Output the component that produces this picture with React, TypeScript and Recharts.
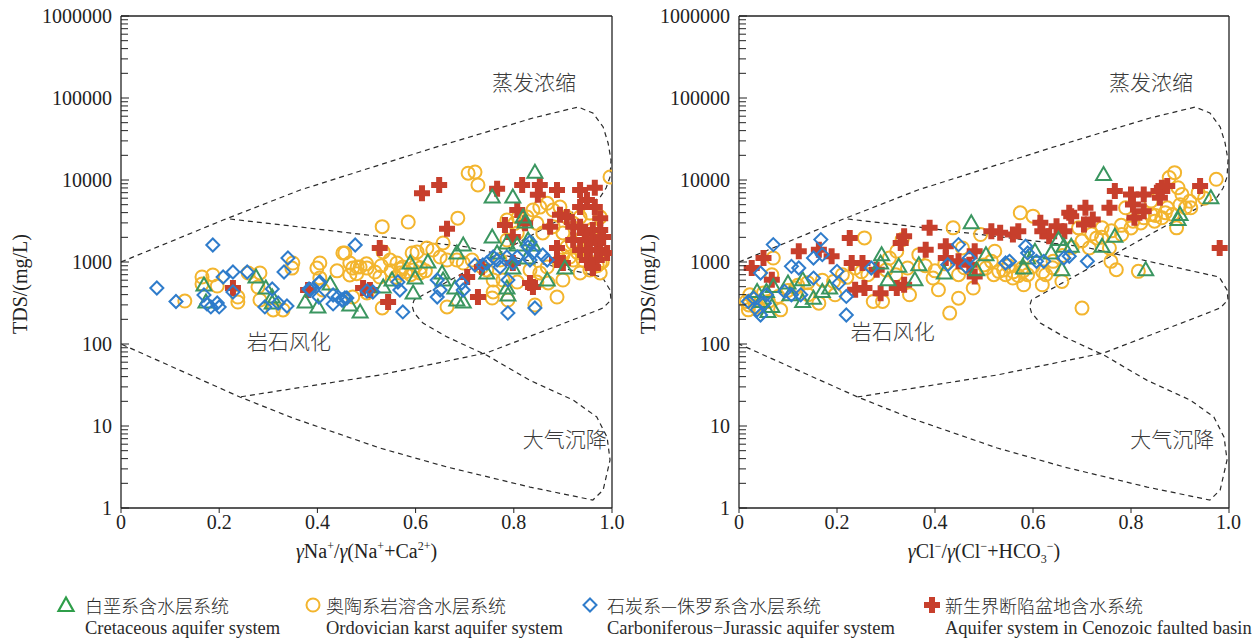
import React from "react";
import { ReferenceLine, Scatter, ScatterChart, XAxis, YAxis } from "recharts";

type Pt = [number, number];

// Gibbs template boundaries (same in both panels)
const outerLine: Pt[] = [
  [0, 1000], [0.208, 3250], [0.365, 7550], [0.635, 24500], [0.839, 57000],
  [0.931, 77600], [0.961, 65600], [0.982, 44300], [0.992, 28300], [0.998, 17500],
  [0.996, 10900], [0.988, 7990], [0.976, 6200], [0.782, 1400], [0.597, 345],
  [0.593, 290], [0.597, 240], [0.615, 180], [0.664, 122], [0.745, 73],
  [0.833, 36], [0.921, 20.7], [0.969, 12.9], [0.99, 7.3], [0.996, 3.85],
  [0.982, 1.66], [0.961, 1.25], [0.833, 1.8], [0.664, 3.16], [0.527, 5.39],
  [0.35, 12.5], [0.242, 22.6], [0, 100],
];
const innerLine: Pt[] = [
  [0.222, 3345], [0.365, 2670], [0.705, 1524], [0.98, 656], [0.996, 456],
  [0.998, 344], [0.982, 275], [0.935, 213], [0.745, 78], [0.527, 41.9], [0.242, 22.6],
];

// left panel: γNa+/γ(Na+ + Ca2+)
const naCretaceous: Pt[] = [
  [0.169, 525], [0.173, 325], [0.275, 656], [0.295, 482], [0.308, 374], [0.308, 316],
  [0.426, 539], [0.375, 325], [0.401, 283], [0.466, 299], [0.487, 246], [0.534, 495],
  [0.552, 603], [0.589, 972], [0.599, 640], [0.625, 1003], [0.595, 419], [0.654, 735],
  [0.656, 603], [0.697, 1611], [0.684, 1288], [0.68, 482], [0.684, 344], [0.697, 325],
  [0.756, 6200], [0.756, 2018], [0.786, 1706], [0.766, 1288], [0.807, 1611], [0.819, 3530],
  [0.823, 3070], [0.798, 6200], [0.843, 12400], [0.829, 1850], [0.839, 1611], [0.786, 482],
  [0.788, 396], [0.868, 603], [0.904, 843], [0.745, 735], [0.798, 843], [0.827, 1119],
];
const naOrdovician: Pt[] = [
  [0.165, 656], [0.165, 539], [0.187, 695], [0.196, 509], [0.13, 334], [0.238, 325],
  [0.238, 374], [0.259, 735], [0.283, 735], [0.279, 495], [0.283, 344], [0.31, 260],
  [0.33, 260], [0.35, 972], [0.348, 843], [0.405, 972], [0.399, 843], [0.405, 640],
  [0.411, 456], [0.456, 1288], [0.466, 972], [0.472, 843], [0.487, 869], [0.466, 695],
  [0.472, 374], [0.532, 2700], [0.585, 3070], [0.452, 1288], [0.481, 869], [0.501, 843],
  [0.517, 755], [0.534, 1328], [0.548, 1057], [0.562, 972], [0.574, 869], [0.593, 1288],
  [0.603, 1328], [0.623, 1480], [0.635, 1400], [0.595, 798], [0.609, 735], [0.568, 735],
  [0.527, 656], [0.65, 1151], [0.664, 1057], [0.656, 1706], [0.686, 3425], [0.707, 12100],
  [0.721, 12500], [0.727, 8700], [0.758, 603], [0.758, 431], [0.756, 364], [0.664, 283],
  [0.532, 275], [0.501, 419], [0.715, 1057], [0.735, 869], [0.772, 1057], [0.786, 3250],
  [0.802, 2960], [0.827, 3530], [0.839, 4300], [0.853, 4670], [0.868, 5200], [0.88, 4300],
  [0.894, 4670], [0.908, 3530], [0.921, 2960], [0.935, 3530], [0.955, 3950], [0.976, 3530],
  [0.847, 2960], [0.859, 2260], [0.88, 2700], [0.9, 2260], [0.908, 1524], [0.894, 1057],
  [0.921, 1057], [0.941, 1057], [0.955, 798], [0.935, 735], [0.914, 1151], [0.976, 735],
  [0.976, 972], [0.888, 374], [0.843, 299], [0.9, 603], [0.996, 10900], [0.809, 3530],
  [0.786, 1855], [0.807, 2260], [0.833, 798], [0.853, 735], [0.684, 1057], [0.697, 972],
  [0.745, 798], [0.778, 603], [0.807, 570], [0.847, 570], [0.87, 555], [0.868, 869],
  [0.788, 344], [0.55, 780], [0.57, 820], [0.58, 760], [0.59, 700], [0.56, 650],
  [0.6, 900], [0.61, 850], [0.62, 780], [0.53, 900], [0.5, 950], [0.48, 720],
  [0.44, 780], [0.93, 1300], [0.95, 1800], [0.96, 1400], [0.97, 1200], [0.94, 2000],
  [0.92, 1700], [0.97, 900], [0.98, 1000], [0.9, 1200], [0.96, 2500],
];
const naJurassic: Pt[] = [
  [0.073, 482], [0.112, 330], [0.187, 1611], [0.228, 755], [0.208, 656], [0.257, 755],
  [0.169, 396], [0.196, 316], [0.183, 283], [0.2, 283], [0.175, 308], [0.228, 431],
  [0.34, 1119], [0.332, 755], [0.308, 469], [0.293, 283], [0.338, 291], [0.32, 316],
  [0.383, 469], [0.403, 555], [0.403, 374], [0.432, 308], [0.442, 374], [0.452, 344],
  [0.46, 364], [0.477, 1611], [0.501, 443], [0.385, 456], [0.405, 570], [0.432, 396],
  [0.45, 344], [0.456, 364], [0.513, 431], [0.564, 570], [0.568, 456], [0.574, 246],
  [0.644, 603], [0.65, 456], [0.644, 374], [0.694, 555], [0.697, 456], [0.721, 919],
  [0.745, 972], [0.766, 1057], [0.772, 869], [0.786, 1151], [0.798, 972], [0.807, 1151],
  [0.833, 1057], [0.839, 1288], [0.859, 1217], [0.868, 1057], [0.788, 603], [0.788, 239],
  [0.843, 275], [0.833, 1754], [0.758, 1151], [0.829, 1524], [0.737, 919],
];
const naCenozoic: Pt[] = [
  [0.613, 6900], [0.648, 8700], [0.766, 7800], [0.817, 8700], [0.853, 8700], [0.849, 6600],
  [0.888, 7550], [0.935, 7550], [0.965, 8020], [0.807, 4300], [0.782, 2820], [0.798, 2018],
  [0.664, 2550], [0.527, 1480], [0.493, 482], [0.507, 456], [0.544, 325], [0.705, 656],
  [0.727, 374], [0.833, 555], [0.839, 495], [0.888, 1480], [0.9, 972], [0.961, 869],
  [0.381, 456], [0.228, 482], [0.894, 3770], [0.908, 3530], [0.935, 4670], [0.949, 5700],
  [0.965, 4670], [0.976, 3425], [0.921, 2700], [0.935, 2700], [0.945, 2260], [0.961, 2455],
  [0.976, 2455], [0.921, 1855], [0.949, 1855], [0.969, 1706], [0.982, 2018], [0.935, 1400],
  [0.955, 1400], [0.976, 1400], [0.99, 1288], [0.949, 1057], [0.969, 1057], [0.961, 843],
  [0.888, 1057], [0.874, 2700], [0.823, 2960], [0.735, 869], [0.798, 972],
];

// right panel: γCl-/γ(Cl- + HCO3-)
const clCretaceous: Pt[] = [
  [0.744, 11700], [0.963, 6080], [0.896, 3300], [0.9, 3800], [0.767, 2060], [0.741, 1556],
  [0.83, 805], [0.652, 1875], [0.663, 1556], [0.678, 1556], [0.637, 1290], [0.659, 805],
  [0.604, 1352], [0.589, 1119], [0.581, 845], [0.474, 3010], [0.504, 1230], [0.485, 805],
  [0.419, 733], [0.367, 927], [0.359, 608], [0.326, 885], [0.304, 608], [0.291, 1230],
  [0.289, 972], [0.185, 481], [0.152, 362], [0.13, 330], [0.13, 608], [0.1, 553],
  [0.104, 398], [0.07, 504], [0.056, 438], [0.037, 438], [0.044, 330], [0.059, 249],
  [0.067, 286], [0.17, 438],
];
const clOrdovician: Pt[] = [
  [0.015, 330], [0.019, 261], [0.022, 398], [0.033, 286], [0.085, 261], [0.07, 1119],
  [0.067, 700], [0.115, 481], [0.141, 398], [0.163, 315], [0.196, 398], [0.193, 579],
  [0.211, 700], [0.237, 845], [0.256, 1967], [0.263, 700], [0.274, 330], [0.293, 330],
  [0.307, 1119], [0.322, 1352], [0.333, 1875], [0.344, 845], [0.348, 398], [0.367, 1230],
  [0.396, 637], [0.407, 458], [0.43, 238], [0.437, 2610], [0.448, 362], [0.448, 700],
  [0.456, 1484], [0.478, 481], [0.493, 2162], [0.504, 845], [0.515, 1019], [0.522, 1352],
  [0.53, 769], [0.544, 700], [0.559, 637], [0.574, 3980], [0.578, 845], [0.589, 700],
  [0.6, 3625], [0.581, 527], [0.619, 527], [0.626, 700], [0.641, 1019], [0.659, 579],
  [0.693, 2610], [0.7, 274], [0.715, 1484], [0.73, 1967], [0.741, 2610], [0.756, 1484],
  [0.759, 1019], [0.77, 805], [0.781, 2162], [0.789, 4580], [0.804, 3150], [0.815, 769],
  [0.826, 3460], [0.841, 3800], [0.848, 3150], [0.863, 3460], [0.874, 4580], [0.878, 10700],
  [0.889, 12300], [0.896, 8050], [0.904, 6670], [0.911, 4580], [0.922, 4580], [0.893, 2610],
  [0.885, 3800], [0.937, 7000], [0.974, 10200], [0.841, 5530], [0.02, 300], [0.03, 350],
  [0.04, 280], [0.05, 420], [0.06, 330], [0.08, 380], [0.1, 450], [0.12, 520],
  [0.14, 560], [0.17, 600], [0.22, 650], [0.25, 760], [0.3, 800], [0.32, 700],
  [0.38, 900], [0.4, 780], [0.42, 950], [0.46, 850], [0.48, 760], [0.5, 920],
  [0.52, 700], [0.54, 800], [0.55, 900], [0.56, 760], [0.57, 680], [0.58, 780],
  [0.6, 880], [0.62, 760], [0.64, 850], [0.66, 1200], [0.68, 1500], [0.7, 1800],
  [0.72, 2200], [0.74, 2000], [0.76, 2400], [0.78, 2800], [0.8, 2600], [0.82, 3000],
  [0.85, 3700], [0.87, 4000], [0.9, 5000], [0.92, 5500], [0.95, 6000],
];
const clJurassic: Pt[] = [
  [0.07, 1630], [0.044, 733], [0.019, 330], [0.037, 261], [0.044, 226], [0.052, 315],
  [0.056, 398], [0.03, 362], [0.167, 1875], [0.17, 1230], [0.152, 1119], [0.107, 885],
  [0.122, 845], [0.152, 637], [0.2, 769], [0.204, 553], [0.219, 380], [0.219, 226],
  [0.093, 438], [0.107, 398], [0.126, 398], [0.27, 845], [0.426, 927], [0.448, 1630],
  [0.47, 1119], [0.463, 885], [0.544, 972], [0.552, 1019], [0.585, 1556], [0.589, 1290],
  [0.607, 1019], [0.622, 1019], [0.663, 1119], [0.674, 1173], [0.711, 1019],
];
const clCenozoic: Pt[] = [
  [0.026, 845], [0.05, 1119], [0.067, 608], [0.122, 1352], [0.163, 1415], [0.189, 1173],
  [0.226, 1967], [0.23, 972], [0.252, 972], [0.281, 805], [0.289, 417], [0.237, 458],
  [0.256, 481], [0.322, 481], [0.337, 527], [0.33, 1710], [0.337, 2060], [0.381, 1415],
  [0.389, 2610], [0.422, 1556], [0.422, 1119], [0.448, 1019], [0.47, 927], [0.481, 1352],
  [0.481, 667], [0.515, 2377], [0.533, 2266], [0.559, 2162], [0.57, 2377], [0.615, 3010],
  [0.619, 2377], [0.633, 2060], [0.648, 2733], [0.664, 2377], [0.674, 3980], [0.678, 3625],
  [0.707, 4580], [0.704, 2865], [0.722, 3300], [0.756, 4580], [0.767, 7330], [0.8, 6670],
  [0.804, 5040], [0.807, 3460], [0.826, 6670], [0.826, 4170], [0.856, 7330], [0.863, 8050],
  [0.874, 8450], [0.859, 6080], [0.941, 8450], [0.981, 1484],
];

// region names [x, TDS, text]
const naRegions: [number, number, string][] = [
  [0.841, 152000, "蒸发浓缩"], [0.342, 106, "岩石风化"], [0.904, 6.75, "大气沉降"],
];
const clRegions: [number, number, string][] = [
  [0.841, 152000, "蒸发浓缩"], [0.314, 140, "岩石风化"], [0.884, 6.75, "大气沉降"],
];

const xTicks = [0, 0.2, 0.4, 0.6, 0.8, 1];
const majorTicks = [1, 10, 100, 1000, 10000, 100000, 1000000];
const minorSteps = [2, 3, 4, 5, 6, 7, 8, 9];
const yTicks = majorTicks.flatMap((d) => (d < 1000000 ? [d, ...minorSteps.map((m) => m * d)] : [d]));

const GREEN = "#3a9660";
const YELLOW = "#f3b52e";
const BLUE = "#2f7ccb";
const RED = "#c73f2c";
const INK = "#222";
const SERIF = "'Liberation Serif', 'Times New Roman', serif";
const CJK = "'Noto Sans CJK SC', sans-serif";

const toXY = (pts: Pt[]) => pts.map(([x, y]) => ({ x, y }));

const Tri = (p: any) => (
  <path
    d={`M${p.cx},${p.cy - 7.5}L${p.cx + 7.5},${p.cy + 5.5}L${p.cx - 7.5},${p.cy + 5.5}Z`}
    fill="none" stroke={GREEN} strokeWidth={2} strokeLinejoin="miter"
  />
);
const Circ = (p: any) => <circle cx={p.cx} cy={p.cy} r={6.5} fill="none" stroke={YELLOW} strokeWidth={2} />;
const Dia = (p: any) => (
  <path
    d={`M${p.cx},${p.cy - 6.5}L${p.cx + 6.5},${p.cy}L${p.cx},${p.cy + 6.5}L${p.cx - 6.5},${p.cy}Z`}
    fill="none" stroke={BLUE} strokeWidth={2}
  />
);
const Cross = (p: any) => (
  <path
    d={`M${p.cx - 3},${p.cy - 8}h6v5h5v6h-5v5h-6v-5h-5v-6h5z`}
    fill={RED}
  />
);
const NoDot = () => <g />;
const RegionText = (p: any) => (
  <text x={p.cx} y={p.cy} dy="0.35em" textAnchor="middle" fontFamily={CJK} fontSize={21} fontWeight={300} fill="#3a3a3a">
    {p.payload.t}
  </text>
);

function YTick(props: any) {
  const { x, y, payload } = props;
  const major = majorTicks.includes(payload.value);
  return (
    <g>
      <line x1={x} x2={x + (major ? 8 : 7)} y1={y} y2={y} stroke={INK} strokeWidth={1} />
      {major && (
        <text x={x - 9} y={y} dy="0.35em" textAnchor="end" fontFamily={SERIF} fontSize={20} fill={INK}>
          {payload.value}
        </text>
      )}
    </g>
  );
}

function YTitle(props: any) {
  const vb = props.viewBox || { x: 0, y: 0, height: 0 };
  const cx = props.at;
  const cy = vb.y + vb.height / 2 + 22;
  return (
    <text x={cx} y={cy} dy="0.35em" textAnchor="middle" transform={`rotate(-90 ${cx} ${cy})`} fontFamily={SERIF} fontSize={20} fill={INK}>
      TDS/(mg/L)
    </text>
  );
}

function XTitle(props: any) {
  const vb = props.viewBox || { x: 0, y: 0, width: 0 };
  const cx = vb.x + vb.width / 2;
  const cy = vb.y + 50;
  const sup = { dy: -8, fontSize: 12 };
  if (props.kind === "na") {
    return (
      <text x={cx} y={cy} textAnchor="middle" fontFamily={SERIF} fontSize={20} fill={INK}>
        <tspan fontStyle="italic">γ</tspan>Na<tspan {...sup}>+</tspan>
        <tspan dy={8}>/</tspan><tspan fontStyle="italic">γ</tspan>(Na<tspan {...sup}>+</tspan>
        <tspan dy={8}>+Ca</tspan><tspan {...sup}>2+</tspan><tspan dy={8}>)</tspan>
      </text>
    );
  }
  return (
    <text x={cx} y={cy} textAnchor="middle" fontFamily={SERIF} fontSize={20} fill={INK}>
      <tspan fontStyle="italic">γ</tspan>Cl<tspan {...sup}>−</tspan>
      <tspan dy={8}>/</tspan><tspan fontStyle="italic">γ</tspan>(Cl<tspan {...sup}>−</tspan>
      <tspan dy={8}>+HCO</tspan><tspan dy={5} fontSize={12}>3</tspan><tspan dy={-13} fontSize={12}>−</tspan>
      <tspan dy={8}>)</tspan>
    </text>
  );
}

function Panel(props: {
  width: number; marginRight: number; titleAt: number; kind: "na" | "cl";
  cret: Pt[]; ordo: Pt[]; jura: Pt[]; ceno: Pt[]; regions: [number, number, string][];
}) {
  const dash = { stroke: "#2a2a2a", strokeWidth: 1.2, strokeDasharray: "5 4" };
  return (
    <ScatterChart width={props.width} height={580} margin={{ top: 16, right: props.marginRight, bottom: 12, left: 0 }}>
      <XAxis
        type="number" dataKey="x" domain={[0, 1]} ticks={xTicks} allowDataOverflow
        tickFormatter={(v: number) => (v === 0 ? "0" : v.toFixed(1))}
        tick={{ fontFamily: SERIF, fontSize: 20, fill: INK }}
        tickSize={5} tickLine={{ stroke: INK }} axisLine={{ stroke: INK, strokeWidth: 1.3 }}
        height={60} label={<XTitle kind={props.kind} />}
      />
      <YAxis
        type="number" dataKey="y" scale="log" domain={[1, 1000000]} ticks={yTicks} allowDataOverflow
        interval={0} width={121} tickSize={0} tickMargin={0} tickLine={false}
        tick={<YTick />} axisLine={{ stroke: INK, strokeWidth: 1.3 }}
        label={<YTitle at={props.titleAt} />}
      />
      <ReferenceLine x={1} stroke={INK} strokeWidth={1.3} />
      <ReferenceLine y={1000000} stroke={INK} strokeWidth={1.3} />
      <Scatter data={toXY(outerLine)} line={dash} lineType="joint" shape={NoDot} isAnimationActive={false} />
      <Scatter data={toXY(innerLine)} line={dash} lineType="joint" shape={NoDot} isAnimationActive={false} />
      <Scatter data={toXY(props.ordo)} shape={Circ} isAnimationActive={false} />
      <Scatter data={toXY(props.ceno)} shape={Cross} isAnimationActive={false} />
      <Scatter data={toXY(props.cret)} shape={Tri} isAnimationActive={false} />
      <Scatter data={toXY(props.jura)} shape={Dia} isAnimationActive={false} />
      <Scatter
        data={props.regions.map(([x, y, t]) => ({ x, y, t }))}
        shape={RegionText} isAnimationActive={false}
      />
    </ScatterChart>
  );
}

const legendItems = [
  { icon: "tri", x: 66, textX: 85, zh: "白垩系含水层系统", en: "Cretaceous aquifer system" },
  { icon: "circ", x: 313, textX: 326, zh: "奥陶系岩溶含水层系统", en: "Ordovician karst aquifer system" },
  { icon: "dia", x: 590, textX: 607, zh: "石炭系—侏罗系含水层系统", en: "Carboniferous−Jurassic aquifer system" },
  { icon: "cross", x: 932, textX: 945, zh: "新生界断陷盆地含水系统", en: "Aquifer system in Cenozoic faulted basin" },
];

function LegendIcon({ icon }: { icon: string }) {
  const c = { cx: 10, cy: 10 };
  return (
    <svg width={20} height={20} style={{ display: "block" }}>
      {icon === "tri" && <path d="M10,2.5L17.5,16L2.5,16Z" fill="none" stroke="#2f9e4a" strokeWidth={2.2} />}
      {icon === "circ" && <Circ {...c} />}
      {icon === "dia" && <Dia {...c} />}
      {icon === "cross" && <Cross {...c} />}
    </svg>
  );
}

export default function App() {
  return (
    <div style={{ position: "relative", width: 1260, height: 642, background: "#fff", overflow: "hidden" }}>
      <style>{"body{margin:0}"}</style>
      <div style={{ position: "absolute", left: 0, top: 0 }}>
        <Panel width={630} marginRight={18} titleAt={20} kind="na"
          cret={naCretaceous} ordo={naOrdovician} jura={naJurassic} ceno={naCenozoic} regions={naRegions} />
      </div>
      <div style={{ position: "absolute", left: 618, top: 0 }}>
        <Panel width={623} marginRight={12} titleAt={30} kind="cl"
          cret={clCretaceous} ordo={clOrdovician} jura={clJurassic} ceno={clCenozoic} regions={clRegions} />
      </div>
      {legendItems.map((it) => (
        <div key={it.icon}>
          <div style={{ position: "absolute", left: it.x - 10, top: 595 }}>
            <LegendIcon icon={it.icon} />
          </div>
          <div style={{ position: "absolute", left: it.textX, top: 594, fontFamily: CJK, fontSize: 18, fontWeight: 300, color: "#2a2a2a", lineHeight: "22px", whiteSpace: "nowrap" }}>
            {it.zh}
          </div>
          <div style={{ position: "absolute", left: it.textX, top: 617, fontFamily: SERIF, fontSize: 18.5, color: "#2a2a2a", lineHeight: "22px", whiteSpace: "nowrap" }}>
            {it.en}
          </div>
        </div>
      ))}
    </div>
  );
}
